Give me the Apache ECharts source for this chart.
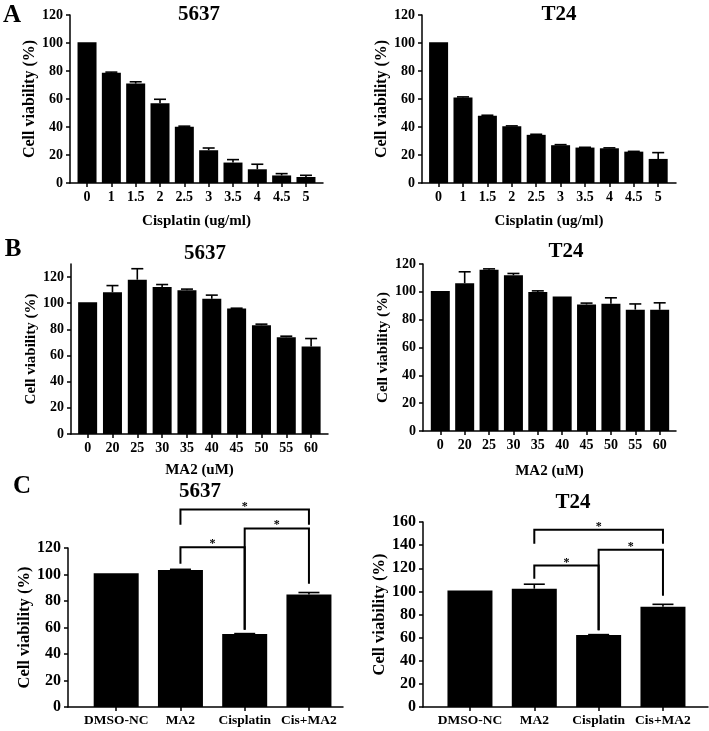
<!DOCTYPE html>
<html><head><meta charset="utf-8">
<script src="https://cdn.jsdelivr.net/npm/echarts@6/dist/echarts.min.js"></script>
<style>html,body{margin:0;padding:0;background:#fff}#c{width:709px;height:731px}</style>
</head><body><div id="c"></div>
<script>
// ---------- data ----------
const cisplatinDoses = ['0','1','1.5','2','2.5','3','3.5','4','4.5','5'];
const ma2Doses = ['0','20','25','30','35','40','45','50','55','60'];
const comboGroups = ['DMSO-NC','MA2','Cisplatin','Cis+MA2'];

const a5637 = [100.5, 78.7, 71, 56.9, 40.1, 23.4, 14.6, 9.8, 5.4, 4.3];
const a5637Err = [0, 0.5, 1.3, 2.9, 0.5, 1.6, 2.1, 3.6, 1.3, 1.2];
const aT24 = [100.5, 61, 48, 40.6, 34.4, 27, 25.3, 24.8, 22.4, 17.2];
const aT24Err = [0, 0.5, 0.4, 0.2, 0.4, 0.4, 0.2, 0.3, 0.2, 4.5];

const b5637 = [100.7, 108.4, 118, 112.5, 110, 103.4, 96, 83.2, 74, 66.9];
const b5637Err = [0, 5.1, 8.4, 1.8, 0.8, 2.8, 0.2, 0.8, 0.8, 6.1];
const bT24 = [100.6, 106.2, 115.8, 111.9, 99.9, 96.6, 90.9, 91.4, 87.2, 87.1];
const bT24Err = [0, 8.2, 0.7, 1.3, 0.8, 0, 1.0, 4.3, 4.1, 5.0];

const c5637 = [100.9, 103.4, 55.1, 85];
const c5637Err = [0, 0.5, 0.3, 1.4];
const cT24 = [100.8, 102.3, 62.3, 86.8];
const cT24Err = [0, 3.9, 0.3, 2.0];

// significance brackets: [fromIndex, toIndex, barY, leftLegEndY, rightLegEndY]
const c5637Brackets = [[1,3,149,137.6,137.6],[2,3,134.8,58.3,93],[1,2,120.5,108.2,58.3]];
const cT24Brackets = [[1,3,153.4,141.2,141.2],[2,3,136,66.3,96.3],[1,2,122.3,111,66.3]];

const yTicks120 = [0,20,40,60,80,100,120];

// ---------- layout ----------
const FONT = '"Liberation Serif", "Times New Roman", serif';
const panels = [
  {grid:{left:70,top:15,width:253,height:168}, xmin:-0.7, xmax:9.7, ymax:120, cats:cisplatinDoses, vals:a5637, errs:a5637Err, bw:19, cap:12, xname:'Cisplatin (ug/ml)', xgap:31, ygap:30, yfs:16, lfs:14, xfs:14},
  {grid:{left:422,top:15,width:254,height:168}, xmin:-0.68, xmax:9.73, ymax:120, cats:cisplatinDoses, vals:aT24, errs:aT24Err, bw:19, cap:12, xname:'Cisplatin (ug/ml)', xgap:31, ygap:30, yfs:16, lfs:14, xfs:14},
  {grid:{left:71,top:264,width:257,height:170}, xmin:-0.67, xmax:9.68, ymax:130, cats:ma2Doses, vals:b5637, errs:b5637Err, bw:19, cap:12, xname:'MA2 (uM)', xgap:29, ygap:29, yfs:15, lfs:14, xfs:14, custom:true},
  {grid:{left:423,top:264,width:253,height:167}, xmin:-0.71, xmax:9.67, ymax:120, cats:ma2Doses, vals:bT24, errs:bT24Err, bw:19, cap:12, xname:'MA2 (uM)', xgap:33, ygap:31, yfs:15, lfs:14, xfs:14},
  {grid:{left:68,top:548,width:275,height:159}, xmin:-0.75, xmax:3.53, ymax:120, cats:comboGroups, vals:c5637, errs:c5637Err, bw:45, cap:21, xname:'', xgap:0, ygap:26, yfs:16.5, lfs:16, xfs:13.5, brackets:c5637Brackets},
  {grid:{left:423,top:522,width:285,height:185}, xmin:-0.73, xmax:3.70, ymax:160, cats:comboGroups, vals:cT24, errs:cT24Err, bw:45, cap:21, xname:'', xgap:0, ygap:30, yfs:16.5, lfs:16, xfs:13.5, brackets:cT24Brackets}
];

function errRender(capW){
  return function(params, api){
    const x = api.value(0), v = api.value(1), e = api.value(2);
    if (!e) return null;
    const p0 = api.coord([x, v]), p1 = api.coord([x, v + e]);
    return {type:'group', children:[
      {type:'line', shape:{x1:p0[0],y1:p0[1],x2:p1[0],y2:p1[1]}, style:{stroke:'#000',lineWidth:1.6}},
      {type:'line', shape:{x1:p1[0]-capW/2,y1:p1[1],x2:p1[0]+capW/2,y2:p1[1]}, style:{stroke:'#000',lineWidth:1.6}}
    ]};
  };
}
function bracketRender(params, api){
  const x1 = api.value(0), x2 = api.value(1), yt = api.value(2), yl = api.value(3), yr = api.value(4);
  const a = api.coord([x1, yl]), b = api.coord([x1, yt]), c = api.coord([x2, yt]), d = api.coord([x2, yr]);
  return {type:'group', children:[
    {type:'polyline', shape:{points:[a,b,c,d]}, style:{stroke:'#000',lineWidth:2,fill:null}},
    {type:'text', x:(b[0]+c[0])/2, y:b[1]-3, style:{text:'*', font:'bold 12px ' + FONT, align:'center', verticalAlign:'middle', fill:'#000'}}
  ]};
}

const grid = [], xAxis = [], yAxis = [], series = [];
panels.forEach((p, i) => {
  grid.push(p.grid);
  const idx = p.cats.map((c, k) => k);
  xAxis.push({
    type:'value', gridIndex:i, min:p.xmin, max:p.xmax,
    splitLine:{show:false},
    axisLine:{show:true, onZero:false, lineStyle:{color:'#000', width:1.5}},
    axisTick:{show:true, length:4, customValues:idx, lineStyle:{color:'#000', width:1.5}},
    axisLabel:{customValues:idx, formatter:(v) => p.cats[Math.round(v)], color:'#000', fontFamily:FONT, fontWeight:'bold', fontSize:p.xfs, margin:7},
    name:p.xname, nameLocation:'middle', nameGap:p.xgap,
    nameTextStyle:{color:'#000', fontFamily:FONT, fontWeight:'bold', fontSize:15}
  });
  const yax = {
    type:'value', gridIndex:i, min:0, max:p.ymax, interval:20,
    splitLine:{show:false},
    axisLine:{show:true, onZero:false, lineStyle:{color:'#000', width:1.5}},
    axisTick:{show:true, length:4, lineStyle:{color:'#000', width:1.5}},
    axisLabel:{color:'#000', fontFamily:FONT, fontWeight:'bold', fontSize:p.lfs, margin:7},
    name:'Cell viability (%)', nameLocation:'middle', nameGap:p.ygap,
    nameTextStyle:{color:'#000', fontFamily:FONT, fontWeight:'bold', fontSize:p.yfs}
  };
  if (p.custom) { yax.axisTick.customValues = yTicks120; yax.axisLabel.customValues = yTicks120; }
  yAxis.push(yax);
  series.push({type:'bar', xAxisIndex:i, yAxisIndex:i, barWidth:p.bw, itemStyle:{color:'#000'},
    data:p.vals.map((v,k) => [k, v]), silent:true, animation:false});
  series.push({type:'custom', xAxisIndex:i, yAxisIndex:i, renderItem:errRender(p.cap), clip:false, z:3,
    data:p.vals.map((v,k) => [k, v, p.errs[k]]), silent:true, animation:false});
  if (p.brackets) {
    series.push({type:'custom', xAxisIndex:i, yAxisIndex:i, renderItem:bracketRender, clip:false, z:4,
      data:p.brackets, silent:true, animation:false});
  }
});

const txt = (s, x, y, size) => ({type:'text', x:x, y:y, style:{text:s, font:'bold ' + size + 'px ' + FONT, align:'center', verticalAlign:'middle', fill:'#000'}});
const graphic = [
  txt('A', 12, 16, 25), txt('B', 13, 250, 25), txt('C', 22, 487, 25),
  txt('5637', 199, 15, 21), txt('T24', 559, 15, 21),
  txt('5637', 205, 254, 21), txt('T24', 566, 252, 21),
  txt('5637', 200, 492, 21), txt('T24', 573, 503, 21)
];

const chart = echarts.init(document.getElementById('c'));
chart.setOption({animation:false, backgroundColor:'#fff', grid, xAxis, yAxis, series, graphic});
</script></body></html>
